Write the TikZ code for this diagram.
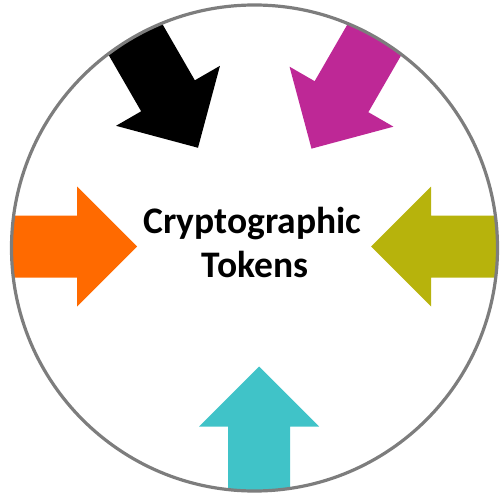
\documentclass[tikz,border=0pt]{standalone}
\usepackage{fontspec}
\setmainfont{Carlito}
\definecolor{ringgray}{RGB}{125,125,125}
\definecolor{tokmagenta}{RGB}{190,40,150}
\definecolor{tokorange}{RGB}{255,106,0}
\definecolor{tokolive}{RGB}{183,179,12}
\definecolor{tokcyan}{RGB}{64,195,200}
\begin{document}
\begin{tikzpicture}[x=1pt,y=1pt,
  pointer/.style={fill=#1},
  ring/.style={draw=ringgray,line width=3.2pt},
  title/.style={font=\bfseries\fontsize{37.5}{44}\selectfont,anchor=base,inner sep=0pt}]
\useasboundingbox (0,0) rectangle (503,499);
\coordinate (ringc) at (254.5,251);
% five block arrows aimed at the centre, cut off by the ring
\begin{scope}
  \clip (ringc) circle (243);
  \foreach \ang/\tip/\col/\dx in {0/116/tokolive/0, 60/113/tokmagenta/0, 120/114/black/0, 180/118/tokorange/0, 270/120/tokcyan/4}
    \fill[pointer=\col, shift={(255+\dx,252.5)}, rotate=\ang]
      (\tip,0) -- ++(60,60) -- ++(0,-29) -- ++(200,0) -- ++(0,-62)
      -- ++(-200,0) -- ++(0,-29) -- cycle;
\end{scope}
\draw[ring] (ringc) circle (243);
\node[title] (l1) at (252.5,266) {Cryptographic};
\node[title] (l2) at (255,222) {Tokens};
\end{tikzpicture}
\end{document}
